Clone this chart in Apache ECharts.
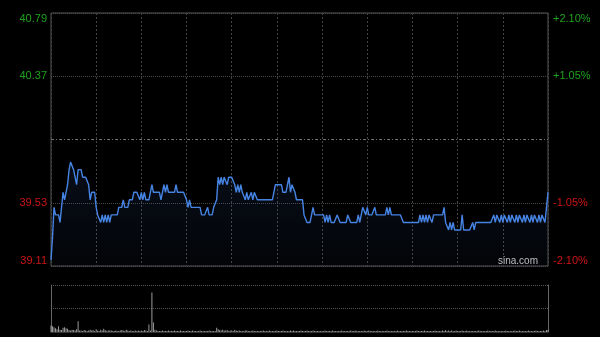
<!DOCTYPE html>
<html><head><meta charset="utf-8">
<script src="https://cdn.jsdelivr.net/npm/echarts@6/dist/echarts.min.js"></script>
<style>html,body{margin:0;padding:0;background:#000;}#c{width:600px;height:337px;}</style>
</head><body><div id="c"></div>
<script>
// ---- data ----
const prevClose = 39.95;
const priceTickLabels = ['39.11', '39.53', '', '40.37', '40.79'];
const pctTickLabels = ['-2.10%', '-1.05%', '', '+1.05%', '+2.10%'];
const prices = [
39.15,39.30,39.50,39.45,39.45,39.45,39.40,39.40,39.60,39.55,
39.55,39.65,39.75,39.80,39.80,39.75,39.70,39.65,39.75,39.75,
39.75,39.70,39.70,39.70,39.70,39.65,39.55,39.60,39.60,39.60,
39.50,39.45,39.45,39.40,39.45,39.40,39.45,39.40,39.45,39.40,
39.45,39.45,39.45,39.45,39.45,39.50,39.50,39.50,39.55,39.50,
39.50,39.50,39.55,39.55,39.55,39.60,39.60,39.60,39.60,39.55,
39.60,39.55,39.60,39.55,39.55,39.55,39.55,39.65,39.60,39.60,
39.60,39.60,39.60,39.55,39.60,39.65,39.60,39.65,39.60,39.60,
39.60,39.60,39.60,39.65,39.60,39.60,39.60,39.60,39.60,39.60,
39.55,39.50,39.55,39.50,39.50,39.50,39.50,39.50,39.50,39.50,
39.45,39.45,39.45,39.45,39.50,39.45,39.45,39.45,39.50,39.50,
39.55,39.70,39.65,39.70,39.65,39.70,39.70,39.65,39.70,39.70,
39.70,39.70,39.65,39.60,39.65,39.60,39.65,39.60,39.60,39.55,
39.60,39.55,39.55,39.60,39.55,39.60,39.60,39.55,39.55,39.55,
39.55,39.55,39.55,39.55,39.55,39.55,39.55,39.55,39.60,39.65,
39.65,39.65,39.65,39.65,39.60,39.60,39.60,39.60,39.70,39.60,
39.65,39.65,39.60,39.55,39.55,39.55,39.55,39.55,39.45,39.45,
39.40,39.40,39.40,39.40,39.50,39.45,39.45,39.45,39.45,39.45,
39.45,39.45,39.40,39.45,39.40,39.45,39.40,39.40,39.40,39.40,
39.45,39.45,39.40,39.40,39.40,39.40,39.40,39.45,39.45,39.40,
39.40,39.40,39.40,39.40,39.45,39.40,39.45,39.50,39.50,39.45,
39.50,39.45,39.45,39.45,39.45,39.50,39.45,39.45,39.45,39.45,
39.45,39.45,39.45,39.50,39.45,39.50,39.45,39.45,39.45,39.45,
39.45,39.45,39.45,39.45,39.40,39.40,39.40,39.40,39.40,39.40,
39.40,39.40,39.40,39.40,39.40,39.45,39.40,39.45,39.40,39.45,
39.40,39.45,39.45,39.40,39.45,39.45,39.45,39.45,39.45,39.45,
39.45,39.50,39.40,39.40,39.35,39.40,39.35,39.40,39.35,39.35,
39.35,39.35,39.35,39.45,39.35,39.35,39.35,39.35,39.35,39.35,
39.40,39.35,39.40,39.40,39.40,39.40,39.40,39.40,39.40,39.40,
39.40,39.40,39.40,39.40,39.45,39.40,39.45,39.45,39.40,39.45,
39.40,39.45,39.45,39.40,39.45,39.40,39.45,39.45,39.40,39.45,
39.40,39.45,39.45,39.40,39.45,39.40,39.45,39.45,39.40,39.45,
39.40,39.45,39.45,39.40,39.45,39.40,39.45,39.45,39.40,39.40,
39.60
];
const volumes = [
14,12,10,8,6,12,5,4,9,10,
8,7,4,3,5,4,3,6,23,3,
3,2,4,3,2,3,5,3,4,2,
6,3,2,5,3,7,4,2,3,3,
3,2,2,3,2,2,3,4,3,2,
5,3,2,3,2,2,3,2,3,2,
3,2,4,3,2,16,3,84,20,5,
3,2,2,2,3,2,2,2,3,2,
2,2,3,2,2,2,3,2,2,2,
2,3,2,2,3,2,2,2,2,3,
2,2,2,2,2,3,2,2,2,2,
9,6,4,3,5,3,3,4,2,3,
3,2,4,3,2,3,2,2,2,3,
3,2,2,2,3,2,2,2,2,2,
2,3,2,2,2,3,2,2,2,2,
3,2,2,2,3,2,2,2,2,3,
2,3,2,2,2,2,3,2,2,2,
3,2,2,2,3,2,2,2,2,2,
2,2,3,2,2,2,2,3,2,2,
2,2,2,3,2,2,2,2,2,3,
2,2,3,2,2,2,2,2,3,2,
2,3,2,2,2,2,2,3,2,2,
2,2,2,3,2,2,2,2,2,2,
3,2,2,2,2,2,3,2,2,2,
2,2,2,3,2,2,2,2,3,2,
2,2,2,2,2,3,2,2,2,2,
3,2,4,2,3,2,3,2,2,3,
2,2,2,3,2,2,3,2,2,2,
2,2,2,2,3,2,2,2,2,2,
3,2,2,2,2,3,2,2,2,2,
2,2,3,2,2,2,2,2,3,2,
2,3,2,2,2,2,2,3,2,2,
2,2,3,2,2,2,2,3,2,4,
5
];
// minute categories (HK session)
const times = [];
for (let h = 9, m = 30; h < 12 || (h === 12 && m === 0); ) { times.push(String(h).padStart(2,'0') + ':' + String(m).padStart(2,'0')); m++; if (m === 60) { m = 0; h++; } }
for (let h = 13, m = 1; h < 16 || (h === 16 && m === 0); ) { times.push(String(h).padStart(2,'0') + ':' + String(m).padStart(2,'0')); m++; if (m === 60) { m = 0; h++; } }

const pct = prices.map(p => +((p / prevClose - 1) * 100).toFixed(4));
const tickIdx = v => Math.round((v + 2.1) / 1.05);
const GREEN = '#1ea31e', RED = '#cf1515';
const FONT = 'Liberation Sans, Arial, sans-serif';

const chart = echarts.init(document.getElementById('c'), null, {renderer: 'canvas'});
chart.setOption({
  backgroundColor: '#000',
  animation: false,
  grid: [
    {left: 51, right: 52, top: 13, height: 253, show: true, borderColor: '#555', borderWidth: 1, backgroundColor: 'transparent'},
    {left: 51, right: 52, top: 285, height: 47, show: false}
  ],
  xAxis: [
    {gridIndex: 0, type: 'category', data: times, boundaryGap: false,
     axisLine: {show: false}, axisTick: {show: false}, axisLabel: {show: false},
     splitLine: {show: true, interval: 29, lineStyle: {color: '#444', type: [2, 2], width: 1}}},
    {gridIndex: 1, type: 'category', data: times, boundaryGap: false,
     axisLine: {show: true, lineStyle: {color: '#333'}}, axisTick: {show: false}, axisLabel: {show: false},
     splitLine: {show: false}}
  ],
  yAxis: [
    {gridIndex: 0, type: 'value', min: -2.1, max: 2.1, interval: 1.05, position: 'left',
     axisLine: {show: false}, axisTick: {show: false},
     axisLabel: {margin: 4, fontSize: 11, fontFamily: FONT,
       verticalAlignMinLabel: 'bottom', verticalAlignMaxLabel: 'top',
       formatter: v => { const i = tickIdx(v); const t = priceTickLabels[i]; if (!t) return ''; return (v > 0 ? '{g|' : '{r|') + t + '}'; },
       rich: {g: {color: GREEN, fontSize: 11, fontFamily: FONT}, r: {color: RED, fontSize: 11, fontFamily: FONT}}},
     splitLine: {show: true, lineStyle: {color: ['#4a4a4a', '#4a4a4a', 'transparent', '#4a4a4a', '#4a4a4a'], type: 'dotted', width: 1}}},
    {gridIndex: 0, type: 'value', min: -2.1, max: 2.1, interval: 1.05, position: 'right',
     axisLine: {show: false}, axisTick: {show: false},
     axisLabel: {margin: 5, fontSize: 11, fontFamily: FONT,
       verticalAlignMinLabel: 'bottom', verticalAlignMaxLabel: 'top',
       formatter: v => { const i = tickIdx(v); const t = pctTickLabels[i]; if (!t) return ''; return (v > 0 ? '{g|' : '{r|') + t + '}'; },
       rich: {g: {color: GREEN, fontSize: 11, fontFamily: FONT}, r: {color: RED, fontSize: 11, fontFamily: FONT}}},
     splitLine: {show: false}},
    {gridIndex: 1, type: 'value', min: 0, max: 100, interval: 50, position: 'left',
     axisLine: {show: true, lineStyle: {color: '#666'}}, axisTick: {show: false}, axisLabel: {show: false},
     splitLine: {show: true, lineStyle: {color: '#555', type: 'dotted'}}},
    {gridIndex: 1, type: 'value', min: 0, max: 100, interval: 50, position: 'right',
     axisLine: {show: true, lineStyle: {color: '#666'}}, axisTick: {show: false}, axisLabel: {show: false},
     splitLine: {show: false}}
  ],
  series: [
    {type: 'line', xAxisIndex: 0, yAxisIndex: 0, data: pct, showSymbol: false, symbol: 'none',
     lineStyle: {color: '#4684e4', width: 1.4},
     areaStyle: {origin: 'start', color: new echarts.graphic.LinearGradient(0, 0, 0, 1, [
       {offset: 0, color: 'rgba(60,100,180,0.20)'}, {offset: 1, color: 'rgba(60,100,180,0.06)'}])},
     markLine: {silent: true, symbol: 'none', label: {show: false},
       lineStyle: {color: '#707070', type: [3, 2, 1, 2], width: 1},
       data: [{yAxis: 0}]}},
    {type: 'bar', xAxisIndex: 1, yAxisIndex: 2, data: volumes, barWidth: 1,
     itemStyle: {color: '#9a9a9a'}}
  ],
  graphic: [
    {type: 'text', left: 498, top: 256, silent: true,
     style: {text: 'sina.com', fill: '#c0c0c0', font: '10px Liberation Sans, Arial, sans-serif'}}
  ]
});
</script>
</body></html>
